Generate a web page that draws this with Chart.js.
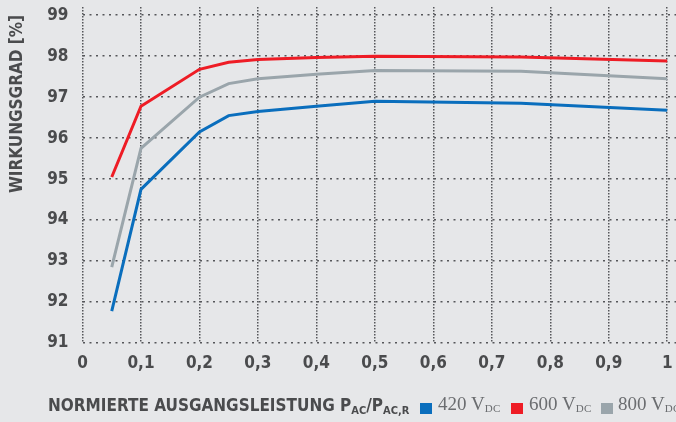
<!DOCTYPE html>
<html>
<head>
<meta charset="utf-8">
<script src="https://cdn.jsdelivr.net/npm/chart.js@4/dist/chart.umd.min.js"></script>
<style>
  html, body { margin: 0; padding: 0; background: #e6e7e9; }
  #wrap { position: relative; width: 676px; height: 422px; overflow: hidden; }
  canvas { position: absolute; left: 0; top: 0; }
  .ft { position: absolute; top: 395px; white-space: nowrap; line-height: 20px; }
  #xt { left: 48px; color: #4a4b4d; font-family: "DejaVu Sans Condensed", "DejaVu Sans"; font-weight: bold; font-size: 17px; }
  #xt sub { font-size: 11px; vertical-align: -3px; }
  .key { position: absolute; top: 403px; width: 12px; height: 11px; }
  .lg { font-family: "Liberation Serif", serif; font-size: 19px; color: #6b6d70; top: 394px; }
  .lg sub { font-size: 11px; vertical-align: -2px; letter-spacing: 0.5px; }
</style>
</head>
<body>
<div id="wrap">
  <canvas id="c" width="676" height="422"></canvas>
  <div class="ft" id="xt">NORMIERTE AUSGANGSLEISTUNG P<sub>AC</sub>/P<sub>AC,R</sub></div>
  <div class="key" style="left:420px;background:#0a6ebd"></div>
  <div class="ft lg" style="left:438px">420 V<sub>DC</sub></div>
  <div class="key" style="left:511px;background:#ee1c25"></div>
  <div class="ft lg" style="left:529px">600 V<sub>DC</sub></div>
  <div class="key" style="left:601px;background:#9aa5ab"></div>
  <div class="ft lg" style="left:618px">800 V<sub>DC</sub></div>
</div>
<script>
const loads = [0.05, 0.1, 0.2, 0.25, 0.3, 0.4, 0.5, 0.75, 1];
const eff420 = [91.78, 94.75, 96.15, 96.55, 96.65, 96.78, 96.9, 96.85, 96.68];
const eff600 = [95.05, 96.78, 97.68, 97.85, 97.92, 97.97, 98.0, 97.98, 97.88];
const eff800 = [92.85, 95.75, 97.0, 97.33, 97.45, 97.56, 97.65, 97.63, 97.45];
const yTicks = [91, 92, 93, 94, 95, 96, 97, 98, 99];
const xTicks = [0, 0.1, 0.2, 0.3, 0.4, 0.5, 0.6, 0.7, 0.8, 0.9, 1];
const yTitle = 'WIRKUNGSGRAD [%]';

const txt = '#4a4b4d';
const tickFont = { family: '"DejaVu Sans Condensed", "DejaVu Sans"', weight: 'bold', size: 17 };

function series(vals) {
  return vals.map((v, i) => ({ x: loads[i], y: v }));
}

// rotated y title, placed to the left like in the print original
const yTitlePlugin = {
  id: 'yTitle',
  afterDraw(chart) {
    const ctx = chart.ctx;
    ctx.save();
    ctx.translate(18, 104);
    ctx.rotate(-Math.PI / 2);
    ctx.font = 'bold 17px "DejaVu Sans Condensed", "DejaVu Sans"';
    ctx.fillStyle = txt;
    ctx.textAlign = 'center';
    ctx.textBaseline = 'middle';
    ctx.fillText(yTitle, 0, 0);
    ctx.restore();
  }
};

new Chart(document.getElementById('c'), {
  type: 'line',
  data: {
    datasets: [
      { label: '420 VDC', data: series(eff420), borderColor: '#0a6ebd' },
      { label: '600 VDC', data: series(eff600), borderColor: '#ee1c25' },
      { label: '800 VDC', data: series(eff800), borderColor: '#9aa5ab' },
    ],
  },
  options: {
    responsive: false,
    animation: false,
    layout: { padding: { top: 7, right: 0, left: 0, bottom: 0 } },
    elements: { point: { radius: 0 }, line: { borderWidth: 3, tension: 0 } },
    plugins: { legend: { display: false }, tooltip: { enabled: false } },
    scales: {
      x: {
        type: 'linear', min: 0, max: 1.015,
        afterBuildTicks: (s) => { s.ticks = xTicks.map(v => ({ value: v })); },
        afterFit: (s) => { s.height = 79; s.paddingLeft = 0; s.paddingRight = 0; },
        border: { display: false, dash: [1.5, 1.5] },
        grid: { color: '#55565a', lineWidth: 1.5, drawTicks: false },
        ticks: { color: txt, font: tickFont, padding: 10, maxRotation: 0,
          callback: (v) => String(Math.round(v * 10) / 10).replace('.', ',') },
      },
      y: {
        min: 91, max: 99.2,
        afterBuildTicks: (s) => { s.ticks = yTicks.map(v => ({ value: v })); },
        afterFit: (s) => { s.width = 82.5; s.paddingTop = 0; s.paddingBottom = 0; },
        border: { display: false, dash: [2, 4.5] },
        grid: { color: '#55565a', lineWidth: 1.5, drawTicks: false },
        ticks: { color: txt, font: tickFont, padding: 14 },
      },
    },
  },
  plugins: [yTitlePlugin],
});
</script>
</body>
</html>
